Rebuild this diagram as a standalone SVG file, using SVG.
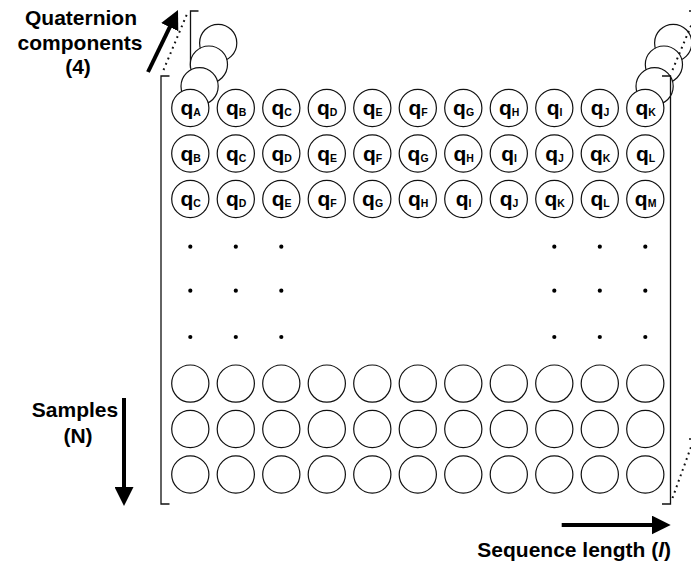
<svg xmlns="http://www.w3.org/2000/svg" width="691" height="569" viewBox="0 0 691 569">
  <style>
    .cell { fill: #fff; stroke: #111; stroke-width: 1.2; }
    .bracket { fill: none; stroke: #111; stroke-width: 1.3; }
    .persp { fill: none; stroke: #111; stroke-width: 2; stroke-dasharray: 1.8 4; stroke-linecap: butt; }
    .dot { fill: #000; }
    .lbl { font-family: "Liberation Sans", Arial, sans-serif; font-weight: bold; font-size: 21px; fill: #000; }
    .q { font-family: "Liberation Sans", Arial, sans-serif; font-weight: bold; font-size: 21px; fill: #000; text-anchor: middle; }
    .sub { font-size: 10.5px; }
    .arrow { fill: none; stroke: #000; stroke-width: 4; }
  </style>
  <defs>
    <marker id="head" markerUnits="userSpaceOnUse" markerWidth="19" markerHeight="19" refX="2" refY="9.5" orient="auto" viewBox="0 0 19 19">
      <path d="M0,0 L19,9.5 L0,19 z" fill="#000"/>
    </marker>
  </defs>

  <!-- back layers: bracket corners and stacked component circles -->
  <g id="back-layers">
    <path class="bracket" d="M198.5,11 H190.5 V68"/>
    <path class="bracket" d="M689,11 H698"/>
    <path class="bracket" d="M689,439 H698"/>
    <g id="stack-left">
      <circle class="cell" cx="218.2" cy="42.9" r="18.6"/>
      <circle class="cell" cx="208.9" cy="64.6" r="18.6"/>
      <circle class="cell" cx="199.6" cy="86.3" r="18.6"/>
    </g>
    <g id="stack-right">
      <circle class="cell" cx="673.2" cy="42.9" r="18.6"/>
      <circle class="cell" cx="663.9" cy="64.6" r="18.6"/>
      <circle class="cell" cx="654.6" cy="86.3" r="18.6"/>
    </g>
  </g>

  <!-- front matrix bracket -->
  <g id="front-bracket">
    <path class="bracket" d="M169.5,76 H161 V504 H169.5"/>
    <path class="bracket" d="M662,76 H670.5 V504 H662"/>
  </g>

  <!-- connectors: perspective guides and axis arrows -->
  <g id="connectors">
    <path class="persp" d="M163.5,70 L187,14"/>
    <path class="persp" d="M672.5,70 L695.5,15"/>
    <path class="persp" d="M672.5,498 L691,447"/>
    <line class="arrow" x1="148" y1="72" x2="170.6" y2="25.3" marker-end="url(#head)"/>
    <line class="arrow" x1="124" y1="398" x2="124" y2="489" marker-end="url(#head)"/>
    <line class="arrow" x1="561.7" y1="525" x2="653.7" y2="525" marker-end="url(#head)"/>
  </g>

  <!-- row 1 -->
  <g id="r1c1"><circle class="cell" cx="190.3" cy="108" r="18.6"/><text class="q" x="190.6" y="115">q<tspan class="sub" dy="1">A</tspan></text></g>
  <g id="r1c2"><circle class="cell" cx="235.8" cy="108" r="18.6"/><text class="q" x="236.1" y="115">q<tspan class="sub" dy="1">B</tspan></text></g>
  <g id="r1c3"><circle class="cell" cx="281.3" cy="108" r="18.6"/><text class="q" x="281.6" y="115">q<tspan class="sub" dy="1">C</tspan></text></g>
  <g id="r1c4"><circle class="cell" cx="326.8" cy="108" r="18.6"/><text class="q" x="327.1" y="115">q<tspan class="sub" dy="1">D</tspan></text></g>
  <g id="r1c5"><circle class="cell" cx="372.3" cy="108" r="18.6"/><text class="q" x="372.6" y="115">q<tspan class="sub" dy="1">E</tspan></text></g>
  <g id="r1c6"><circle class="cell" cx="417.8" cy="108" r="18.6"/><text class="q" x="418.1" y="115">q<tspan class="sub" dy="1">F</tspan></text></g>
  <g id="r1c7"><circle class="cell" cx="463.3" cy="108" r="18.6"/><text class="q" x="463.6" y="115">q<tspan class="sub" dy="1">G</tspan></text></g>
  <g id="r1c8"><circle class="cell" cx="508.8" cy="108" r="18.6"/><text class="q" x="509.1" y="115">q<tspan class="sub" dy="1">H</tspan></text></g>
  <g id="r1c9"><circle class="cell" cx="554.3" cy="108" r="18.6"/><text class="q" x="554.6" y="115">q<tspan class="sub" dy="1">I</tspan></text></g>
  <g id="r1c10"><circle class="cell" cx="599.8" cy="108" r="18.6"/><text class="q" x="600.1" y="115">q<tspan class="sub" dy="1">J</tspan></text></g>
  <g id="r1c11"><circle class="cell" cx="645.3" cy="108" r="18.6"/><text class="q" x="645.6" y="115">q<tspan class="sub" dy="1">K</tspan></text></g>

  <!-- row 2 -->
  <g id="r2c1"><circle class="cell" cx="190.3" cy="153.5" r="18.6"/><text class="q" x="190.6" y="160.5">q<tspan class="sub" dy="1">B</tspan></text></g>
  <g id="r2c2"><circle class="cell" cx="235.8" cy="153.5" r="18.6"/><text class="q" x="236.1" y="160.5">q<tspan class="sub" dy="1">C</tspan></text></g>
  <g id="r2c3"><circle class="cell" cx="281.3" cy="153.5" r="18.6"/><text class="q" x="281.6" y="160.5">q<tspan class="sub" dy="1">D</tspan></text></g>
  <g id="r2c4"><circle class="cell" cx="326.8" cy="153.5" r="18.6"/><text class="q" x="327.1" y="160.5">q<tspan class="sub" dy="1">E</tspan></text></g>
  <g id="r2c5"><circle class="cell" cx="372.3" cy="153.5" r="18.6"/><text class="q" x="372.6" y="160.5">q<tspan class="sub" dy="1">F</tspan></text></g>
  <g id="r2c6"><circle class="cell" cx="417.8" cy="153.5" r="18.6"/><text class="q" x="418.1" y="160.5">q<tspan class="sub" dy="1">G</tspan></text></g>
  <g id="r2c7"><circle class="cell" cx="463.3" cy="153.5" r="18.6"/><text class="q" x="463.6" y="160.5">q<tspan class="sub" dy="1">H</tspan></text></g>
  <g id="r2c8"><circle class="cell" cx="508.8" cy="153.5" r="18.6"/><text class="q" x="509.1" y="160.5">q<tspan class="sub" dy="1">I</tspan></text></g>
  <g id="r2c9"><circle class="cell" cx="554.3" cy="153.5" r="18.6"/><text class="q" x="554.6" y="160.5">q<tspan class="sub" dy="1">J</tspan></text></g>
  <g id="r2c10"><circle class="cell" cx="599.8" cy="153.5" r="18.6"/><text class="q" x="600.1" y="160.5">q<tspan class="sub" dy="1">K</tspan></text></g>
  <g id="r2c11"><circle class="cell" cx="645.3" cy="153.5" r="18.6"/><text class="q" x="645.6" y="160.5">q<tspan class="sub" dy="1">L</tspan></text></g>

  <!-- row 3 -->
  <g id="r3c1"><circle class="cell" cx="190.3" cy="199" r="18.6"/><text class="q" x="190.6" y="206">q<tspan class="sub" dy="1">C</tspan></text></g>
  <g id="r3c2"><circle class="cell" cx="235.8" cy="199" r="18.6"/><text class="q" x="236.1" y="206">q<tspan class="sub" dy="1">D</tspan></text></g>
  <g id="r3c3"><circle class="cell" cx="281.3" cy="199" r="18.6"/><text class="q" x="281.6" y="206">q<tspan class="sub" dy="1">E</tspan></text></g>
  <g id="r3c4"><circle class="cell" cx="326.8" cy="199" r="18.6"/><text class="q" x="327.1" y="206">q<tspan class="sub" dy="1">F</tspan></text></g>
  <g id="r3c5"><circle class="cell" cx="372.3" cy="199" r="18.6"/><text class="q" x="372.6" y="206">q<tspan class="sub" dy="1">G</tspan></text></g>
  <g id="r3c6"><circle class="cell" cx="417.8" cy="199" r="18.6"/><text class="q" x="418.1" y="206">q<tspan class="sub" dy="1">H</tspan></text></g>
  <g id="r3c7"><circle class="cell" cx="463.3" cy="199" r="18.6"/><text class="q" x="463.6" y="206">q<tspan class="sub" dy="1">I</tspan></text></g>
  <g id="r3c8"><circle class="cell" cx="508.8" cy="199" r="18.6"/><text class="q" x="509.1" y="206">q<tspan class="sub" dy="1">J</tspan></text></g>
  <g id="r3c9"><circle class="cell" cx="554.3" cy="199" r="18.6"/><text class="q" x="554.6" y="206">q<tspan class="sub" dy="1">K</tspan></text></g>
  <g id="r3c10"><circle class="cell" cx="599.8" cy="199" r="18.6"/><text class="q" x="600.1" y="206">q<tspan class="sub" dy="1">L</tspan></text></g>
  <g id="r3c11"><circle class="cell" cx="645.3" cy="199" r="18.6"/><text class="q" x="645.6" y="206">q<tspan class="sub" dy="1">M</tspan></text></g>

  <!-- ellipsis dots -->
  <g id="ellipsis">
    <circle class="dot" cx="190.3" cy="246.7" r="2.1"/><circle class="dot" cx="235.8" cy="246.7" r="2.1"/><circle class="dot" cx="281.3" cy="246.7" r="2.1"/>
    <circle class="dot" cx="554.3" cy="246.7" r="2.1"/><circle class="dot" cx="599.8" cy="246.7" r="2.1"/><circle class="dot" cx="645.3" cy="246.7" r="2.1"/>
    <circle class="dot" cx="190.3" cy="290.7" r="2.1"/><circle class="dot" cx="235.8" cy="290.7" r="2.1"/><circle class="dot" cx="281.3" cy="290.7" r="2.1"/>
    <circle class="dot" cx="554.3" cy="290.7" r="2.1"/><circle class="dot" cx="599.8" cy="290.7" r="2.1"/><circle class="dot" cx="645.3" cy="290.7" r="2.1"/>
    <circle class="dot" cx="190.3" cy="337" r="2.1"/><circle class="dot" cx="235.8" cy="337" r="2.1"/><circle class="dot" cx="281.3" cy="337" r="2.1"/>
    <circle class="dot" cx="554.3" cy="337" r="2.1"/><circle class="dot" cx="599.8" cy="337" r="2.1"/><circle class="dot" cx="645.3" cy="337" r="2.1"/>
  </g>

  <!-- empty sample rows -->
  <g id="rowN2">
    <circle class="cell" cx="190.3" cy="383.6" r="18.6"/><circle class="cell" cx="235.8" cy="383.6" r="18.6"/><circle class="cell" cx="281.3" cy="383.6" r="18.6"/><circle class="cell" cx="326.8" cy="383.6" r="18.6"/><circle class="cell" cx="372.3" cy="383.6" r="18.6"/><circle class="cell" cx="417.8" cy="383.6" r="18.6"/><circle class="cell" cx="463.3" cy="383.6" r="18.6"/><circle class="cell" cx="508.8" cy="383.6" r="18.6"/><circle class="cell" cx="554.3" cy="383.6" r="18.6"/><circle class="cell" cx="599.8" cy="383.6" r="18.6"/><circle class="cell" cx="645.3" cy="383.6" r="18.6"/>
  </g>
  <g id="rowN1">
    <circle class="cell" cx="190.3" cy="429" r="18.6"/><circle class="cell" cx="235.8" cy="429" r="18.6"/><circle class="cell" cx="281.3" cy="429" r="18.6"/><circle class="cell" cx="326.8" cy="429" r="18.6"/><circle class="cell" cx="372.3" cy="429" r="18.6"/><circle class="cell" cx="417.8" cy="429" r="18.6"/><circle class="cell" cx="463.3" cy="429" r="18.6"/><circle class="cell" cx="508.8" cy="429" r="18.6"/><circle class="cell" cx="554.3" cy="429" r="18.6"/><circle class="cell" cx="599.8" cy="429" r="18.6"/><circle class="cell" cx="645.3" cy="429" r="18.6"/>
  </g>
  <g id="rowN">
    <circle class="cell" cx="190.3" cy="474.5" r="18.6"/><circle class="cell" cx="235.8" cy="474.5" r="18.6"/><circle class="cell" cx="281.3" cy="474.5" r="18.6"/><circle class="cell" cx="326.8" cy="474.5" r="18.6"/><circle class="cell" cx="372.3" cy="474.5" r="18.6"/><circle class="cell" cx="417.8" cy="474.5" r="18.6"/><circle class="cell" cx="463.3" cy="474.5" r="18.6"/><circle class="cell" cx="508.8" cy="474.5" r="18.6"/><circle class="cell" cx="554.3" cy="474.5" r="18.6"/><circle class="cell" cx="599.8" cy="474.5" r="18.6"/><circle class="cell" cx="645.3" cy="474.5" r="18.6"/>
  </g>

  <!-- axis labels -->
  <g id="label-components">
    <text class="lbl" x="81" y="25" text-anchor="middle">Quaternion</text>
    <text class="lbl" x="80" y="50" text-anchor="middle">components</text>
    <text class="lbl" x="78" y="74" text-anchor="middle">(4)</text>
  </g>
  <g id="label-samples">
    <text class="lbl" x="75" y="417" text-anchor="middle">Samples</text>
    <text class="lbl" x="78" y="443" text-anchor="middle">(N)</text>
  </g>
  <g id="label-sequence">
    <text class="lbl" x="671" y="557" text-anchor="end">Sequence length (<tspan font-style="italic">l</tspan>)</text>
  </g>
</svg>
